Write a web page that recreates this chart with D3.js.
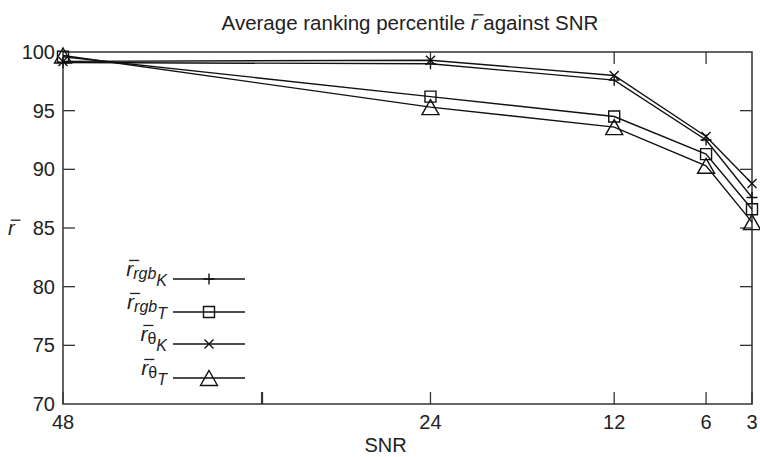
<!DOCTYPE html>
<html>
<head>
<meta charset="utf-8">
<script src="https://cdnjs.cloudflare.com/ajax/libs/d3/7.8.5/d3.min.js"></script>
<style>
  body { margin: 0; background: #fff; }
  svg { font-family: "Liberation Sans", Arial, Helvetica, sans-serif; }
</style>
</head>
<body>
<script>
// data
const snr = [48, 24, 12, 6, 3];
const rgbK = [99.1, 99.0, 97.6, 92.5, 87.6];
const rgbT = [99.6, 96.2, 94.5, 91.3, 86.6];
const thetaK = [99.2, 99.3, 98.0, 92.8, 88.8];
const thetaT = [99.7, 95.3, 93.6, 90.3, 85.5];
const xTicks = [48, 35, 24, 12, 6, 3];
const xTickLabels = ["48", "", "24", "12", "6", "3"];
const yTicks = [70, 75, 80, 85, 90, 95, 100];

const series = [
  { name: "rgb", sub: "K", values: rgbK, marker: "plus" },
  { name: "rgb", sub: "T", values: rgbT, marker: "square" },
  { name: "θ", sub: "K", values: thetaK, marker: "cross" },
  { name: "θ", sub: "T", values: thetaT, marker: "triangle" }
];

const W = 760, H = 457;
const pLeft = 63, pRight = 752, pTop = 52, pBottom = 404;
const axisColor = "#333";

const x = d3.scaleLinear().domain([48, 3]).range([pLeft, pRight]);
const y = d3.scaleLinear().domain([70, 100]).range([pBottom, pTop]);

const svg = d3.select("body").append("svg")
  .attr("width", W).attr("height", H);

// frame
svg.append("rect")
  .attr("x", pLeft).attr("y", pTop)
  .attr("width", pRight - pLeft).attr("height", pBottom - pTop)
  .attr("fill", "none").attr("stroke", axisColor).attr("stroke-width", 1.5);

// x ticks (inward), labels below
const tickLen = 12;
xTicks.forEach(function(t, i) {
  svg.append("line")
    .attr("x1", x(t)).attr("x2", x(t))
    .attr("y1", pBottom).attr("y2", pBottom - tickLen)
    .attr("stroke", axisColor).attr("stroke-width", t === 35 ? 2.2 : 1.3);
  if (t !== 35 && t !== 48 && t !== 3) {
    svg.append("line")
      .attr("x1", x(t)).attr("x2", x(t))
      .attr("y1", pTop).attr("y2", pTop + tickLen)
      .attr("stroke", axisColor).attr("stroke-width", 1.3);
  }
  if (xTickLabels[i]) {
    svg.append("text")
      .attr("x", x(t)).attr("y", 429)
      .attr("text-anchor", "middle")
      .attr("font-size", 20).attr("fill", "#222")
      .text(xTickLabels[i]);
  }
});

// y ticks on both sides, labels left
yTicks.forEach(function(t) {
  if (t !== 70 && t !== 100) {
    svg.append("line")
      .attr("x1", pLeft).attr("x2", pLeft + tickLen)
      .attr("y1", y(t)).attr("y2", y(t))
      .attr("stroke", axisColor).attr("stroke-width", 1.3);
    svg.append("line")
      .attr("x1", pRight).attr("x2", pRight - tickLen)
      .attr("y1", y(t)).attr("y2", y(t))
      .attr("stroke", axisColor).attr("stroke-width", 1.3);
  }
  svg.append("text")
    .attr("x", pLeft - 8).attr("y", y(t) + 7)
    .attr("text-anchor", "end")
    .attr("font-size", 20).attr("fill", "#222")
    .text(t);
});

// axis titles
svg.append("text")
  .attr("x", (pLeft + pRight) / 2 - 22).attr("y", 452)
  .attr("text-anchor", "middle")
  .attr("font-size", 20).attr("fill", "#222")
  .text("SNR");

// bar over an italic r
function overline(textSel, charIndex, fs) {
  const box = textSel.node().getExtentOfChar(charIndex);
  const baseY = +textSel.attr("y");
  svg.append("line")
    .attr("x1", box.x + fs * 0.14).attr("x2", box.x + fs * 0.62)
    .attr("y1", baseY - fs * 0.74).attr("y2", baseY - fs * 0.74)
    .attr("stroke", "#222").attr("stroke-width", 1.3);
}

const yLab = svg.append("text")
  .attr("x", 8).attr("y", 235)
  .attr("font-size", 20).attr("font-style", "italic").attr("fill", "#222")
  .text("r");
overline(yLab, 0, 20);

const title = svg.append("text")
  .attr("x", 410).attr("y", 30)
  .attr("text-anchor", "middle")
  .attr("font-size", 20.5).attr("fill", "#222");
title.append("tspan").text("Average ranking percentile ");
title.append("tspan").attr("font-style", "italic").text("r");
title.append("tspan").text(" against SNR");
overline(title, "Average ranking percentile ".length, 20.5);

// markers
function marker(g, type, cx, cy) {
  const s = 5.5;
  let d;
  if (type === "plus") {
    d = `M${cx - s},${cy}H${cx + s}M${cx},${cy - s}V${cy + s}`;
  } else if (type === "cross") {
    const c = 4.5;
    d = `M${cx - c},${cy - c}L${cx + c},${cy + c}M${cx - c},${cy + c}L${cx + c},${cy - c}`;
  } else if (type === "square") {
    d = `M${cx - s},${cy - s}H${cx + s}V${cy + s}H${cx - s}Z`;
  } else {
    const w = 8.5, h = 7.5;
    d = `M${cx},${cy - h}L${cx + w},${cy + h}L${cx - w},${cy + h}Z`;
  }
  g.append("path").attr("d", d)
    .attr("fill", "none")
    .attr("stroke", "#111").attr("stroke-width", 1.4);
}

const line = d3.line()
  .x(function(d) { return x(d.s); })
  .y(function(d) { return y(d.v); });

series.forEach(function(sr) {
  const pts = snr.map(function(s, i) { return { s: s, v: sr.values[i] }; });
  svg.append("path")
    .attr("d", line(pts))
    .attr("fill", "none").attr("stroke", "#111").attr("stroke-width", 1.4);
  const g = svg.append("g");
  pts.forEach(function(p) { marker(g, sr.marker, x(p.s), y(p.v)); });
});

// legend
const legY = [279, 312, 344, 378];
series.forEach(function(sr, i) {
  const ly = legY[i];
  svg.append("line")
    .attr("x1", 173).attr("x2", 245).attr("y1", ly).attr("y2", ly)
    .attr("stroke", "#111").attr("stroke-width", 1.5);
  marker(svg.append("g"), sr.marker, 209, ly);
  const t = svg.append("text")
    .attr("x", 167).attr("y", ly - 3)
    .attr("text-anchor", "end").attr("fill", "#222");
  t.append("tspan").attr("font-size", 21).attr("font-style", "italic").text("r");
  t.append("tspan").attr("font-size", 16).attr("dy", 3)
    .attr("font-style", sr.name === "θ" ? "normal" : "italic").text(sr.name);
  t.append("tspan").attr("font-size", 16).attr("dy", 7)
    .attr("font-style", "italic").text(sr.sub);
  overline(t, 0, 21);
});
</script>
</body>
</html>
